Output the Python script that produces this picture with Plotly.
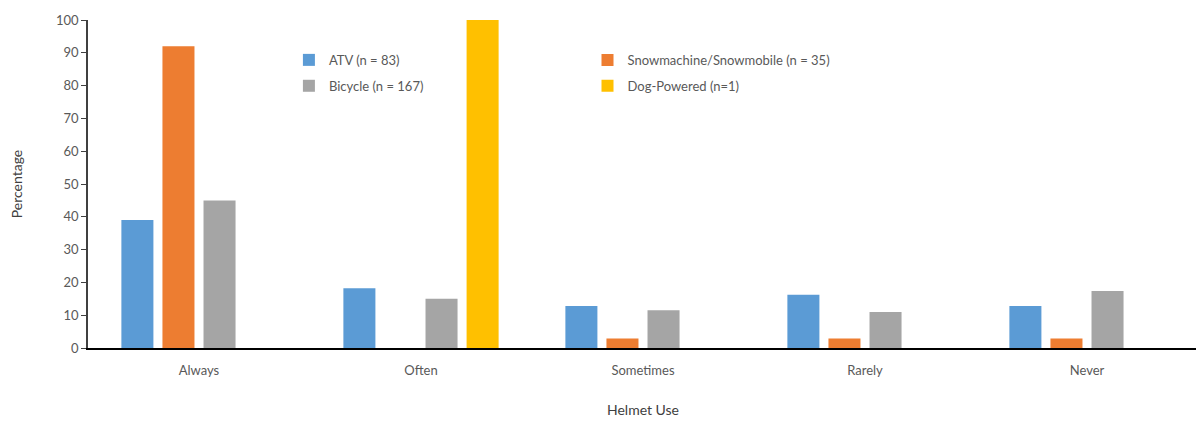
import plotly.graph_objects as go

categories = ["Always", "Often", "Sometimes", "Rarely", "Never"]
atv = [39, 18.2, 12.8, 16.2, 12.8]
snow = [92, 0, 2.9, 2.9, 2.9]
bicycle = [45, 15, 11.5, 11, 17.4]
dog = [0, 100, 0, 0, 0]

series_names = ["ATV (n = 83)", "Snowmachine/Snowmobile (n = 35)", "Bicycle (n = 167)", "Dog-Powered (n=1)"]
series_values = [atv, snow, bicycle, dog]
colors = ["#5B9BD5", "#ED7D31", "#A5A5A5", "#FFC000"]
legends = ["legend", "legend2", "legend", "legend2"]

FONT = "Lato, 'Open Sans', sans-serif"
TXT = "#595959"

fig = go.Figure()
for i, (name, vals, col, lg) in enumerate(zip(series_names, series_values, colors, legends)):
    fig.add_trace(go.Bar(
        x=categories, y=vals, name=name, marker=dict(color=col, line=dict(width=0)),
        legend=lg, legendgroup=f"g{i}",
    ))

fig.update_layout(
    width=1196, height=413,
    margin=dict(l=80, r=6, t=12, b=73, autoexpand=False),
    paper_bgcolor="white", plot_bgcolor="white",
    barmode="group", bargap=0.26, bargroupgap=0.22,
    font=dict(family=FONT, size=13, color=TXT),
    legend=dict(x=0.181, y=0.924, xanchor="left", yanchor="top", orientation="v",
                bgcolor="rgba(0,0,0,0)", font=dict(size=13, color=TXT), tracegroupgap=6),
    legend2=dict(x=0.450, y=0.924, xanchor="left", yanchor="top", orientation="v",
                 bgcolor="rgba(0,0,0,0)", font=dict(size=13, color=TXT), tracegroupgap=6),
    showlegend=True,
)
fig.update_yaxes(
    range=[0, 100], dtick=10, showgrid=False, zeroline=False,
    showline=True, linecolor="#404040", linewidth=1.5,
    ticks="outside", ticklen=5, tickcolor="#404040",
    title=dict(text="Percentage", font=dict(size=14, color="#404040"), standoff=30),
    tickfont=dict(size=13, color=TXT),
)
fig.update_xaxes(
    showgrid=False, showline=True, linecolor="black", linewidth=1.5,
    ticks="", tickfont=dict(size=13, color=TXT), ticklabelstandoff=10,
    title=dict(text="Helmet Use", font=dict(size=14, color="#404040"), standoff=28),
)

fig.write_html("out.html")
